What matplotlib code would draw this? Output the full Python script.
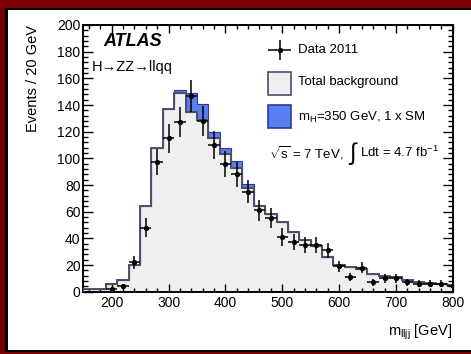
import numpy as np
import matplotlib
matplotlib.use('Agg')
import matplotlib.pyplot as plt
from matplotlib.patches import Rectangle
from matplotlib.ticker import MultipleLocator

plt.rcParams['font.family'] = ['Liberation Sans', 'DejaVu Sans']
plt.rcParams['mathtext.fontset'] = 'custom'
plt.rcParams['mathtext.rm'] = 'Liberation Sans'
plt.rcParams['mathtext.it'] = 'Liberation Sans:italic'

# bins of 20 GeV
edges      = np.arange(150, 811, 20)
background = [2, 2, 6, 9, 20, 64, 108, 137, 149, 135, 129, 115, 103, 93, 78, 64,
              58, 52, 45, 39, 34, 26, 20, 18.5, 17, 13, 12, 11, 8.5, 7, 6.5, 6, 5]
signal     = [0, 0, 0, 0, 0, 0, 0, 0, 2, 14, 12, 5, 4.5, 5, 3, 1,
              0.5, 0, 0, 0, 0, 0, 0, 0, 0, 0, 0, 0, 0, 0, 0, 0, 0]
data_x     = [200, 220, 240, 260, 280, 300, 320, 340, 360, 380, 400, 420, 440, 460, 480, 500,
              520, 540, 560, 580, 600, 620, 640, 660, 680, 700, 720, 740, 760, 780, 800]
data_y     = [2, 4, 22, 48, 97, 115, 127, 147, 128, 110, 96, 88, 75, 61, 55, 41,
              37, 35, 35, 31, 19, 11, 18, 7, 10, 10, 7, 6, 6, 6, 4]

W, H = 471, 354
fig = plt.figure(figsize=(W / 100, H / 100), dpi=100, facecolor='white')

# page frame on top, left and bottom: dark red band with a thin black line inside
def px_rect(x0, y0, x1, y1, color, z):
    # pixel box measured from the top-left corner
    fig.add_artist(Rectangle((x0 / W, 1 - y1 / H), (x1 - x0) / W, (y1 - y0) / H,
                             transform=fig.transFigure, facecolor=color,
                             edgecolor='none', zorder=z))

red = '#7a0000'
px_rect(0, 0, W, 7.5, red, -3)
px_rect(0, 0, 5, H, red, -3)
px_rect(0, 352, W, H, red, -3)
px_rect(5, 7.5, W, 9.5, 'black', -3)
px_rect(5, 7.5, 7.5, 352, 'black', -3)
px_rect(5, 350, W, 352, 'black', -3)

ax = fig.add_axes([83.3 / W, 62.3 / H, 369.4 / W, 266.7 / H])
ax.set_facecolor('white')

bg = np.array(background)
sig = np.array(signal)
ax.stairs(bg, edges, fill=True, facecolor='#efefef', edgecolor='none', zorder=1)
ax.stairs(bg + sig, edges, baseline=bg, fill=True, facecolor='#5a7ef0',
          edgecolor='#2b3a9a', linewidth=0.8, zorder=2)
ax.stairs(bg, edges, color='#4d4f63', linewidth=1.4, zorder=3)

dy = np.sqrt(np.array(data_y, dtype=float))
ax.errorbar(data_x, data_y, xerr=10, yerr=dy, fmt='o', ms=2.8, color='black',
            elinewidth=1.1, capsize=0, zorder=5, clip_on=True)

ax.set_xlim(150, 800)
ax.set_ylim(0, 200)
ax.xaxis.set_major_locator(MultipleLocator(100))
ax.xaxis.set_minor_locator(MultipleLocator(20))
ax.yaxis.set_major_locator(MultipleLocator(20))
ax.yaxis.set_minor_locator(MultipleLocator(4))
ax.tick_params(which='both', direction='in', top=True, right=True, width=1, labelsize=10)
ax.tick_params(axis='x', which='major', length=6, pad=3)
ax.tick_params(axis='x', which='minor', length=3)
ax.tick_params(axis='y', which='major', length=7, pad=2)
ax.tick_params(axis='y', which='minor', length=3.5)
for s in ax.spines.values():
    s.set_linewidth(1.4)

ax.set_ylabel('Events / 20 GeV', fontsize=10.5, loc='top', labelpad=12)
ax.set_xlabel(r'm$_{\mathregular{lljj}}$ [GeV]', fontsize=10.5, loc='right', labelpad=9)

# labels
ax.text(0.053, 0.939, 'ATLAS', transform=ax.transAxes, fontsize=13,
        fontweight='bold', fontstyle='italic', va='center', ha='left')
ax.text(0.024, 0.842, 'H→ZZ→llqq', transform=ax.transAxes, fontsize=10.5,
        va='center', ha='left')

# legend drawn by hand
tx = 0.581
ax.errorbar([0.532], [0.906], xerr=[0.031], yerr=[0.038], fmt='o', ms=2.8,
            color='black', elinewidth=1.1, capsize=0, transform=ax.transAxes)
ax.text(tx, 0.906, 'Data 2011', transform=ax.transAxes, fontsize=9.5, va='center')
ax.add_patch(Rectangle((0.5006, 0.7376), 0.0623, 0.0862, transform=ax.transAxes,
                       facecolor='#efefef', edgecolor='#4d4f63', linewidth=1.2))
ax.text(tx, 0.786, 'Total background', transform=ax.transAxes, fontsize=9.5, va='center')
ax.add_patch(Rectangle((0.5006, 0.6139), 0.0623, 0.0862, transform=ax.transAxes,
                       facecolor='#5a7ef0', edgecolor='#2b3a9a', linewidth=1.2))
ax.text(tx, 0.655, r'm$_{\mathregular{H}}$=350 GeV, 1 x SM', transform=ax.transAxes,
        fontsize=9.5, va='center')

t1 = ax.text(0.503, 0.520, r'$\sqrt{\mathregular{s}}$ = 7 TeV,', transform=ax.transAxes,
             fontsize=9.5, va='center')
t2 = ax.annotate(r'$\int$', xy=(1, 0.5), xycoords=t1, xytext=(3, 0),
                 textcoords='offset points', fontsize=17, va='center', ha='left')
ax.annotate(r'Ldt = 4.7 fb$^{\mathregular{-1}}$', xy=(1, 0.5), xycoords=t2,
            xytext=(1, 0.5), textcoords='offset points', fontsize=9.5,
            va='center', ha='left')

fig.savefig('out.png', dpi=100, facecolor=fig.get_facecolor())
